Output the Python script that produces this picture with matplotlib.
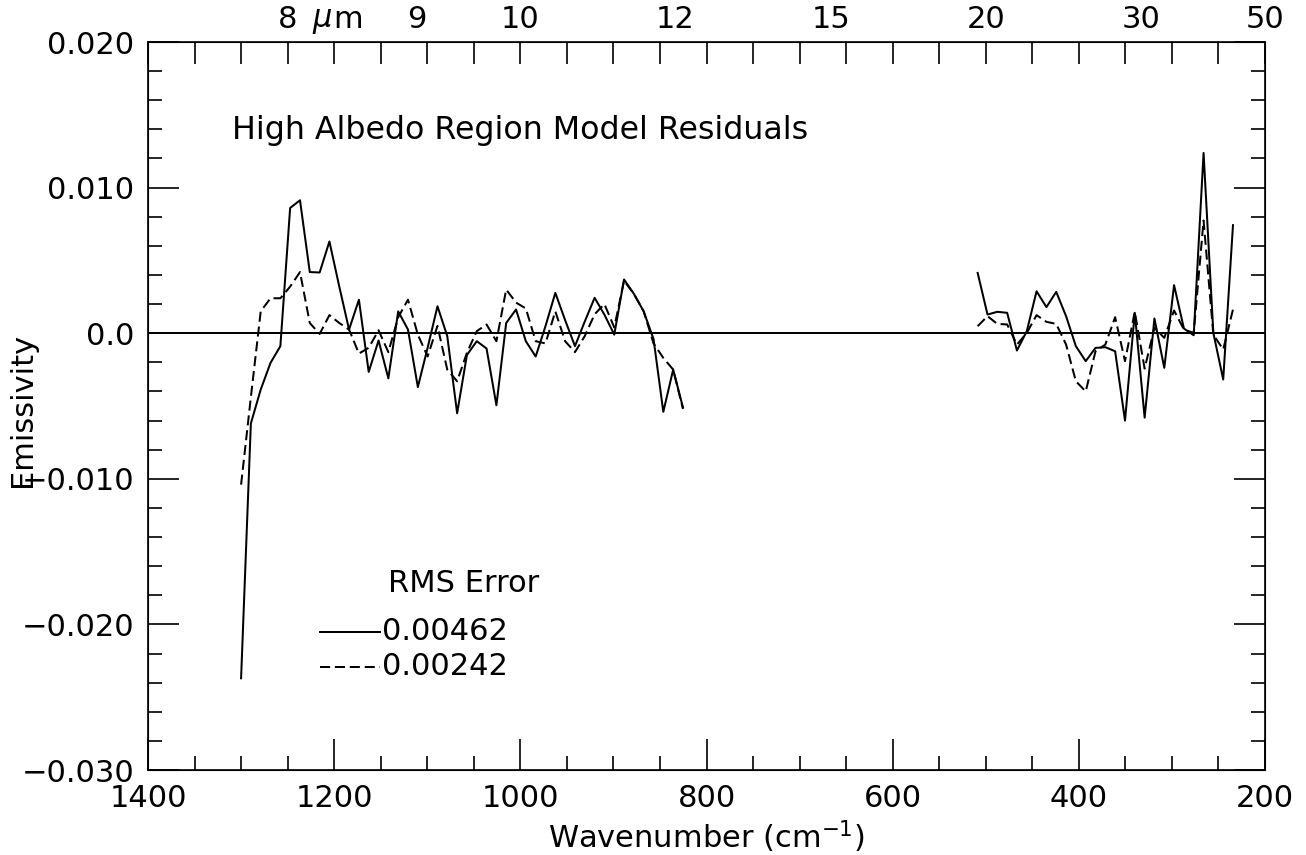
import matplotlib
matplotlib.use("Agg")
import matplotlib.pyplot as plt
import matplotlib.transforms as mtransforms
from matplotlib.ticker import MultipleLocator

plt.rcParams['font.family'] = ['DejaVu Sans']
plt.rcParams['mathtext.fontset'] = 'dejavusans'

# ---- data ----
wn_left = [1300.0, 1289.5, 1278.9, 1268.4, 1257.8, 1247.3, 1236.7, 1226.2, 1215.6, 1205.1,
           1194.5, 1184.0, 1173.4, 1162.9, 1152.3, 1141.8, 1131.2, 1120.7, 1110.1, 1099.6,
           1089.0, 1078.5, 1067.9, 1057.4, 1046.8, 1036.3, 1025.7, 1015.2, 1004.6, 994.1,
           983.5, 973.0, 962.4, 951.9, 941.3, 930.8, 920.2, 909.7, 899.1, 888.6,
           878.0, 867.5, 856.9, 846.4, 835.8, 825.3]
solid_left = [-0.0237, -0.0062, -0.00387, -0.00204, -0.00089, 0.0086, 0.00913, 0.0042, 0.00417, 0.0063,
              0.0032, 0.00025, 0.0023, -0.00266, -0.0005, -0.0031, 0.0015, 0.00025, -0.0037, -0.001,
              0.00185, -0.0002, -0.0055, -0.0015, -0.00055, -0.00105, -0.00495, 0.0007, 0.00163, -0.00055,
              -0.0016, 0.00048, 0.00277, 0.0009, -0.00089, 0.0008, 0.00243, 0.00128, -0.0001, 0.00369,
              0.0027, 0.0015, -0.0004, -0.0054, -0.0025, -0.0051]
dash_left = [-0.0104, -0.0044, 0.0015, 0.0024, 0.0024, 0.0032, 0.0042, 0.0007, -0.00005, 0.00124,
             0.0007, 0.00025, -0.0014, -0.001, 0.0002, -0.0013, 0.0011, 0.0023, -0.0001, -0.0016,
             0.0005, -0.0025, -0.0033, -0.00135, 0.00014, 0.0006, -0.00055, 0.003, 0.0021, 0.0017,
             -0.00055, -0.0007, 0.0015, -0.00055, -0.0013, -0.0002, 0.0013, 0.002, 0.0004, 0.0036,
             0.0027, 0.0015, -0.0007, -0.0017, -0.0025, -0.0052]

wn_right = [508.7, 498.1, 487.6, 477.0, 466.5, 455.9, 445.4, 434.8, 424.3, 413.7,
            403.2, 392.6, 382.1, 371.5, 361.0, 350.4, 339.9, 329.3, 318.8, 308.2,
            297.7, 287.1, 276.6, 266.0, 255.5, 244.9, 234.4]
solid_right = [0.00414, 0.00128, 0.00147, 0.0014, -0.00119, 0.00014, 0.00288, 0.00179, 0.00284, 0.00117,
               -0.00089, -0.00192, -0.00101, -0.00096, -0.00124, -0.006, 0.0014, -0.0058, 0.00101, -0.00238,
               0.0033, 0.00032, -0.00014, 0.01238, 0.00002, -0.00318, 0.00742]
dash_right = [0.00048, 0.00117, 0.00064, 0.0006, -0.00078, 0.00002, 0.00124, 0.00078, 0.00064, -0.00078,
              -0.0033, -0.004, -0.00124, -0.00078, 0.0011, -0.00192, 0.00147, -0.00243, 0.00037, -0.00032,
              0.00156, 0.00025, 0.00002, 0.00774, -0.0001, -0.00112, 0.00163]

y_ticks = [0.020, 0.010, 0.0, -0.010, -0.020, -0.030]
y_ticklabels = ["0.020", "0.010", "0.0", "\u22120.010", "\u22120.020", "\u22120.030"]
x_ticks = [1400, 1200, 1000, 800, 600, 400, 200]
top_um = [8, 9, 10, 12, 15, 20, 30, 50]
rms_values = ["0.00462", "0.00242"]

# ---- figure ----
W, H, DPI = 1306, 855, 100
fig = plt.figure(figsize=(W / DPI, H / DPI), dpi=DPI)
ax = fig.add_axes([148 / W, 1 - 770 / H, (1265 - 148) / W, (770 - 42) / H])

lw = 1.45
fs = 22
dash = (0, (5, 2.4))
ax.plot(wn_left, solid_left, color='black', lw=lw, ls='-')
ax.plot(wn_left, dash_left, color='black', lw=lw, ls=dash)
ax.plot(wn_right, solid_right, color='black', lw=lw, ls='-')
ax.plot(wn_right, dash_right, color='black', lw=lw, ls=dash)
ax.axhline(0.0, color='black', lw=lw)

ax.set_xlim(1400, 200)
ax.set_ylim(-0.030, 0.020)

ax.set_xticks(x_ticks)
ax.set_xticklabels([str(t) for t in x_ticks])
ax.xaxis.set_minor_locator(MultipleLocator(50))
ax.set_yticks(y_ticks)
ax.set_yticklabels(y_ticklabels)
ax.yaxis.set_minor_locator(MultipleLocator(0.002))

ax.tick_params(which='both', direction='in', top=False, right=True, labelsize=fs, width=1.2, pad=10)
ax.tick_params(which='major', length=22)
ax.tick_params(which='minor', length=10)
for s in ax.spines.values():
    s.set_linewidth(1.2)

ax.set_xlabel("Wavenumber (cm$^{-1}$)", fontsize=fs, labelpad=4)
ax.set_ylabel("Emissivity", fontsize=fs)
ax.yaxis.set_label_coords(-0.099, 0.495)

# top wavelength axis
ax2 = ax.twiny()
ax2.set_xlim(ax.get_xlim())
ax2.xaxis.remove_overlapping_locs = False
ax2.set_xticks([10000.0 / u for u in top_um])
ax2.set_xticklabels([str(u) for u in top_um])
ax2.xaxis.set_minor_locator(MultipleLocator(50))
top_pad = 6
ax2.tick_params(which='major', direction='in', length=0, labelsize=fs, pad=top_pad)
ax2.tick_params(which='minor', direction='in', length=16, width=1.2)
um_trans = mtransforms.offset_copy(ax2.get_xaxis_transform(), fig=fig, x=0, y=top_pad, units='points')
ax2.text(1223, 1.0, "\u03bc", transform=um_trans, ha='left', va='bottom',
         fontsize=fs, fontstyle='italic', color='black')
ax2.text(1201, 1.0, "m", transform=um_trans, ha='left', va='bottom',
         fontsize=fs, color='black')

# annotations
ax.text(1310, 0.0139, "High Albedo Region Model Residuals", fontsize=22.8, ha='left', va='center')
ax.text(1142, -0.0172, "RMS Error", fontsize=fs, ha='left', va='center')
ax.plot([1215, 1151], [-0.0205, -0.0205], color='black', lw=lw, ls='-')
ax.plot([1215, 1151], [-0.0229, -0.0229], color='black', lw=lw, ls=dash)
ax.text(1149, -0.0205, rms_values[0], fontsize=fs, ha='left', va='center')
ax.text(1149, -0.0229, rms_values[1], fontsize=fs, ha='left', va='center')

fig.savefig("out.png", dpi=DPI)
